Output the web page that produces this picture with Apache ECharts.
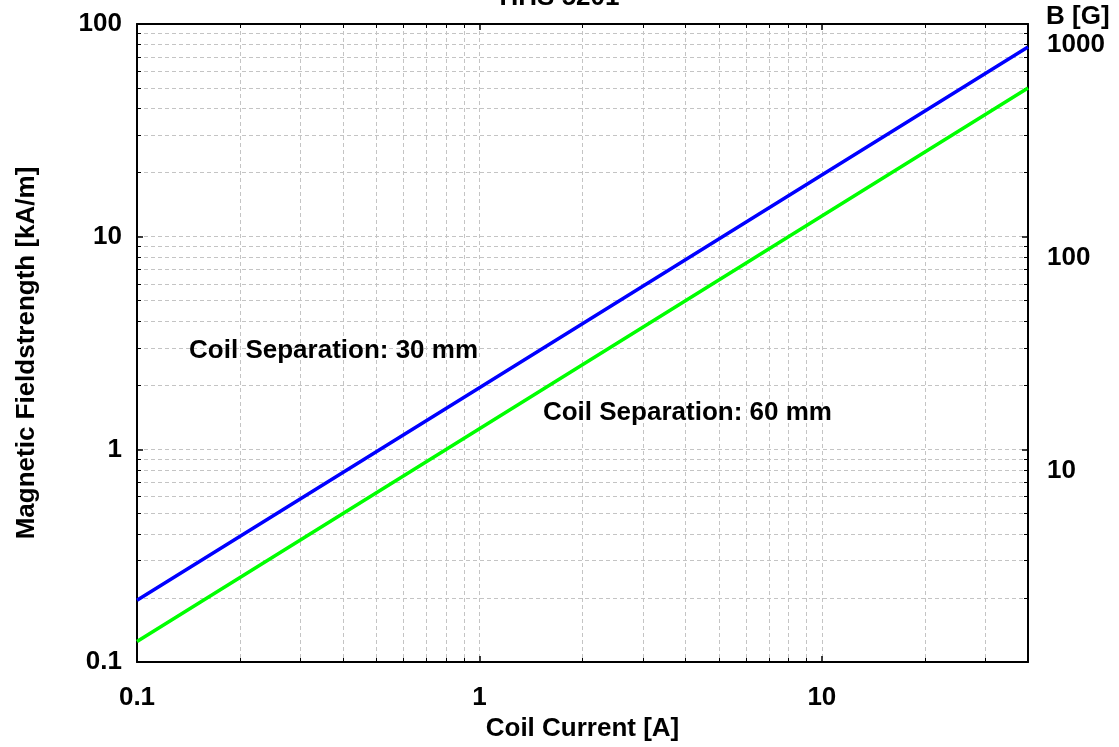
<!DOCTYPE html>
<html><head><meta charset="utf-8">
<script src="https://cdn.jsdelivr.net/npm/echarts@6/dist/echarts.min.js"></script>
<style>html,body{margin:0;padding:0;background:#fff}#c{width:1119px;height:747px}</style>
</head><body><div id="c"></div>
<script>
// Data
const current = [0.1, 1, 10, 40];                 // Coil Current [A]
const field30 = [0.195, 1.95, 19.5, 78];          // Coil Separation 30 mm, kA/m
const field60 = [0.125, 1.25, 12.5, 50];          // Coil Separation 60 mm, kA/m
const xTickLabels = ['0.1', '1', '10'];
const yTickLabels = ['0.1', '1', '10', '100'];
const bTickLabels = ['10', '100', '1000'];
const hToB = 4 * Math.PI * 0.1 * 10;              // kA/m -> Gauss (mu0*H): 1 kA/m = 12.566 G
const title = 'HHS 5201';
const label30 = {text: 'Coil Separation: 30 mm', at: [0.375, 2.9]};
const label60 = {text: 'Coil Separation: 60 mm', at: [4.05, 1.48]};

const FONT = 'Liberation Sans, Arial, sans-serif';
const FS = 26;
const gridLine = {show: true, lineStyle: {color: '#c4c4c4', type: [4, 3], width: 1}};
const axisLine = {show: true, lineStyle: {color: '#000', width: 2}};
const tick = {show: true, inside: true, length: 6, lineStyle: {color: '#000', width: 1.5}};
const minorTick = {show: true, splitNumber: 9, length: 4, lineStyle: {color: '#000', width: 1}};
const lbl = (arr) => ({
  fontFamily: FONT, fontSize: FS, fontWeight: 'bold', color: '#000',
  formatter: v => { const s = String(+v.toPrecision(3)); return arr.includes(s) ? s : ''; }
});

const chart = echarts.init(document.getElementById('c'), null, {renderer: 'canvas'});
chart.setOption({
  animation: false,
  backgroundColor: '#fff',
  title: {text: title, left: 'center', top: -20,
    textStyle: {fontFamily: FONT, fontSize: FS, fontWeight: 'bold', color: '#000'}},
  grid: {left: 137, right: 91, top: 24, bottom: 85, containLabel: false},
  xAxis: [
    {type: 'log', logBase: 10, min: 0.1, max: 40, position: 'bottom',
     name: 'Coil Current [A]', nameLocation: 'middle', nameGap: 53,
     nameTextStyle: {fontFamily: FONT, fontSize: FS, fontWeight: 'bold', color: '#000'},
     axisLine, axisTick: tick, minorTick, splitLine: gridLine, minorSplitLine: gridLine,
     axisLabel: Object.assign(lbl(xTickLabels), {margin: 23})},
    {type: 'log', logBase: 10, min: 0.1, max: 40, position: 'top',
     axisLine, axisTick: tick, minorTick, splitLine: {show: false},
     axisLabel: {show: false}}
  ],
  yAxis: [
    {type: 'log', logBase: 10, min: 0.1, max: 100, position: 'left',
     name: 'Magnetic Fieldstrength [kA/m]', nameLocation: 'middle', nameGap: 97,
     nameTextStyle: {fontFamily: FONT, fontSize: FS, fontWeight: 'bold', color: '#000', padding: [0, 20, 0, 0]},
     axisLine, axisTick: tick, minorTick, splitLine: gridLine, minorSplitLine: gridLine,
     axisLabel: Object.assign(lbl(yTickLabels), {margin: 15})},
    {type: 'log', logBase: 10, min: 0.1, max: 100, position: 'right',
     axisLine, axisTick: tick, minorTick, splitLine: {show: false},
     axisLabel: {show: false}},
    {type: 'log', logBase: 10, min: 0.1 * hToB, max: 100 * hToB, position: 'right',
     axisLine: {show: false}, axisTick: {show: false}, splitLine: {show: false},
     name: 'B [G]', nameLocation: 'end', nameGap: 7,
     nameTextStyle: {fontFamily: FONT, fontSize: FS, fontWeight: 'bold', color: '#000', align: 'left', verticalAlign: 'middle', padding: [0, 0, 0, 18]},
     axisLabel: Object.assign(lbl(bTickLabels), {margin: 19, showMinLabel: false, showMaxLabel: false})}
  ],
  series: [
    {type: 'line', name: '30 mm', data: current.map((x, i) => [x, field30[i]]),
     showSymbol: false, symbol: 'none', lineStyle: {color: '#0000ff', width: 3.5}, z: 5,
     markPoint: {symbol: 'circle', symbolSize: 0, silent: true,
       label: {show: true, formatter: label30.text, position: 'inside', fontFamily: FONT, fontSize: FS, fontWeight: 'bold', color: '#000'},
       data: [{coord: label30.at}]}},
    {type: 'line', name: '60 mm', data: current.map((x, i) => [x, field60[i]]),
     showSymbol: false, symbol: 'none', lineStyle: {color: '#00ff00', width: 3.5}, z: 5,
     markPoint: {symbol: 'circle', symbolSize: 0, silent: true,
       label: {show: true, formatter: label60.text, position: 'inside', fontFamily: FONT, fontSize: FS, fontWeight: 'bold', color: '#000'},
       data: [{coord: label60.at}]}}
  ]
});
</script></body></html>
